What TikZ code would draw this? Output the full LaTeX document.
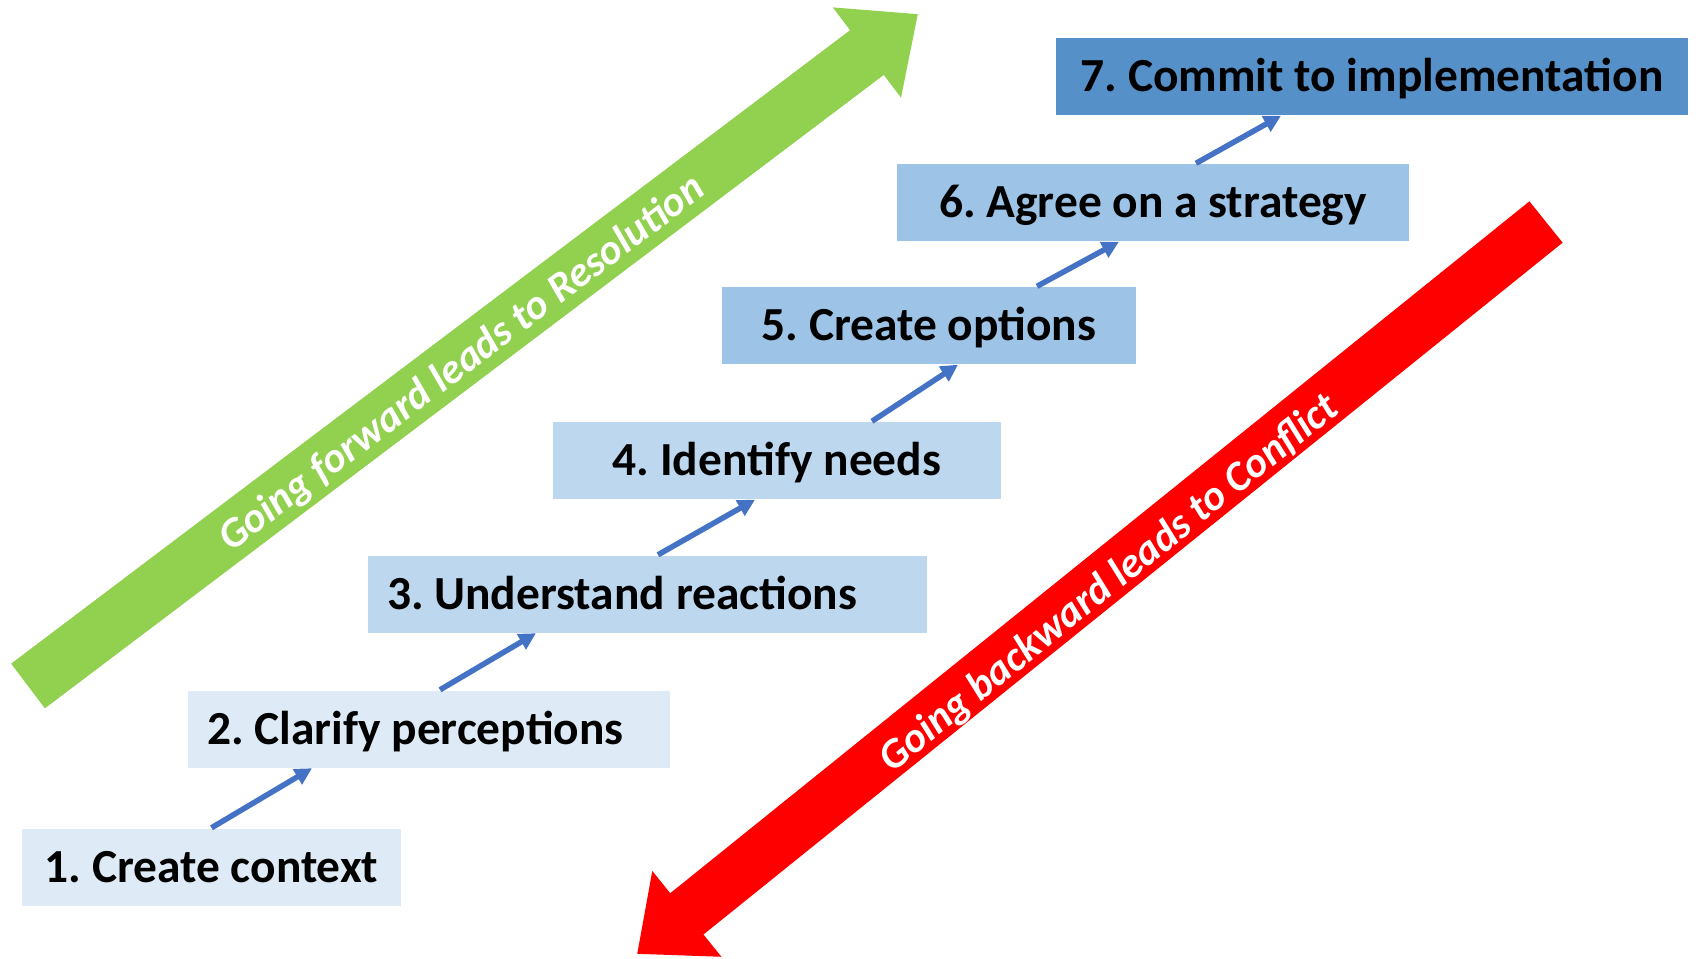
\documentclass[tikz,border=0pt]{standalone}
\usepackage{fontspec}
\setmainfont{Carlito}
\usepackage{tikz}
\usetikzlibrary{arrows.meta,positioning,calc}

\definecolor{stepA}{HTML}{DEEBF7}
\definecolor{stepB}{HTML}{BDD7EE}
\definecolor{stepC}{HTML}{9DC3E6}
\definecolor{stepD}{HTML}{5590C8}
\definecolor{linkblue}{HTML}{4472C4}
\definecolor{fwdgreen}{HTML}{92D050}
\definecolor{bwdred}{HTML}{FF0000}

\frenchspacing

\begin{document}
\begin{tikzpicture}[
    box/.style={fill=#1, minimum height=0.77cm, inner xsep=0.19cm, inner ysep=0pt,
                text height=0.31cm, text depth=0cm,
                font=\fontsize{13.5}{16}\selectfont\bfseries},
    link/.style={draw=linkblue, line width=0.055cm, -{Triangle[length=0.17cm, width=0.17cm]}},
    slogan/.style={text=white, font=\fontsize{12}{15}\selectfont\bfseries\itshape}
]
    \useasboundingbox (0,0) rectangle (16.98,9.58);

    % the seven steps
    \node[box=stepA, minimum width=3.79cm] (s1) at (2.115,0.91) {1. Create context};
    \node[box=stepA, text width=4.44cm, align=flush left] (s2) at (4.29,2.29) {2. Clarify perceptions};
    \node[box=stepB, text width=5.21cm, align=flush left] (s3) at (6.475,3.64) {3. Understand reactions};
    \node[box=stepB, minimum width=4.48cm] (s4) at (7.77,4.975) {4. Identify needs};
    \node[box=stepC, minimum width=4.14cm] (s5) at (9.29,6.325) {5. Create options};
    \node[box=stepC, minimum width=5.12cm] (s6) at (11.53,7.555) {6. Agree on a strategy};
    \node[box=stepD, minimum width=6.32cm] (s7) at (13.72,8.815) {7. Commit to implementation};

    \draw[link] (s1.north) -- ([xshift=-1.17cm]s2.south);
    \draw[link] ([xshift=0.11cm]s2.north) -- ([xshift=-1.115cm]s3.south);
    \draw[link] ([xshift=0.105cm]s3.north) -- ([xshift=-0.22cm]s4.south);
    \draw[link] ([xshift=0.95cm]s4.north) -- ([xshift=0.29cm]s5.south);
    \draw[link] ([xshift=1.08cm]s5.north) -- ([xshift=-0.34cm]s6.south);
    \draw[link] ([xshift=0.43cm]s6.north) -- ([xshift=-0.91cm]s7.south);

    % forward / backward arrows
    \coordinate (fwdtail) at (0.28,2.72);
    \coordinate (fwdtip) at (9.18,9.44);
    \draw[fwdgreen, line width=0.56cm, -{Triangle[length=0.64cm, width=1.09cm]}]
        (fwdtail) -- (fwdtip)
        node[slogan, pos=0.485, sloped, yshift=-0.05cm] {Going forward leads to Resolution};

    \coordinate (bwdtail) at (15.46,7.36);
    \coordinate (bwdtip) at (6.37,0.04);
    \draw[bwdred, line width=0.53cm, -{Triangle[length=0.64cm, width=1.06cm]}]
        (bwdtail) -- (bwdtip)
        node[slogan, pos=0.486, sloped, yshift=-0.08cm] {Going backward leads to Conflict};
\end{tikzpicture}
\end{document}
